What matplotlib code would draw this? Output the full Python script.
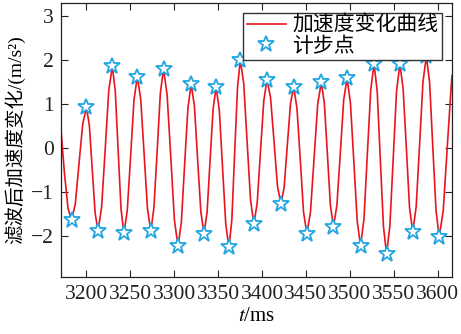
import matplotlib
matplotlib.use("Agg")
import matplotlib.pyplot as plt

# filtered acceleration curve (ms, m/s^2)
curve_t = [3171.0, 3175.0, 3179.0, 3183.0,
           3187.3, 3191.5, 3195.8, 3200.0,
           3203.3, 3206.6, 3209.9, 3213.2,
           3217.3, 3221.4, 3225.4, 3229.5,
           3232.8, 3236.1, 3239.4, 3242.7,
           3246.5, 3250.4, 3254.2, 3258.0,
           3261.8, 3265.7, 3269.5, 3273.3,
           3276.9, 3280.6, 3284.2, 3287.8,
           3291.9, 3296.1, 3300.2, 3304.3,
           3308.1, 3311.8, 3315.6, 3319.3,
           3323.0, 3326.6, 3330.3, 3333.9,
           3337.4, 3340.8, 3344.3, 3347.7,
           3351.4, 3355.0, 3358.7, 3362.3,
           3365.6, 3368.8, 3372.1, 3375.3,
           3379.2, 3383.0, 3386.9, 3390.7,
           3394.5, 3398.2, 3402.0, 3405.7,
           3409.7, 3413.7, 3417.6, 3421.6,
           3425.2, 3428.8, 3432.4, 3436.0,
           3439.8, 3443.6, 3447.3, 3451.1,
           3455.2, 3459.3, 3463.4, 3467.5,
           3471.0, 3474.5, 3477.9, 3481.4,
           3485.3, 3489.2, 3493.0, 3496.9,
           3500.7, 3504.6, 3508.4, 3512.2,
           3516.1, 3519.9, 3523.8, 3527.6,
           3531.2, 3534.7, 3538.3, 3541.8,
           3545.6, 3549.4, 3553.2, 3557.0,
           3560.7, 3564.4, 3568.0, 3571.7,
           3575.6, 3579.5, 3583.3, 3587.2,
           3590.9, 3594.5, 3598.2, 3601.8,
           3606.4, 3610.9, 3615.5, 3616.4]
curve_a = [0.41, -0.59, -1.37, -1.64,
           -1.27, -0.36, 0.55, 0.92,
           0.51, -0.49, -1.48, -1.89,
           -1.34, -0.02, 1.30, 1.85,
           1.30, -0.05, -1.39, -1.94,
           -1.42, -0.16, 1.10, 1.62,
           1.11, -0.14, -1.38, -1.89,
           -1.35, -0.05, 1.25, 1.79,
           1.20, -0.22, -1.64, -2.23,
           -1.69, -0.39, 0.91, 1.45,
           0.95, -0.25, -1.45, -1.95,
           -1.46, -0.29, 0.89, 1.38,
           0.85, -0.44, -1.73, -2.26,
           -1.64, -0.13, 1.38, 2.00,
           1.45, 0.14, -1.18, -1.73,
           -1.25, -0.09, 1.07, 1.55,
           1.14, 0.14, -0.87, -1.28,
           -0.89, 0.06, 1.00, 1.39,
           0.90, -0.28, -1.46, -1.95,
           -1.45, -0.23, 0.99, 1.49,
           1.01, -0.15, -1.31, -1.79,
           -1.30, -0.11, 1.09, 1.58,
           1.02, -0.32, -1.66, -2.22,
           -1.62, -0.16, 1.31, 1.91,
           1.28, -0.25, -1.78, -2.41,
           -1.78, -0.25, 1.28, 1.91,
           1.35, 0.00, -1.35, -1.91,
           -1.33, 0.09, 1.50, 2.08,
           1.48, 0.03, -1.42, -2.02,
           -1.43, -0.01, 1.41, 1.64]

# detected step points (peaks and valleys)
step_t = [3183.0, 3200.0, 3213.2, 3229.5, 3242.7, 3258.0, 3273.3, 3287.8,
          3304.3, 3319.3, 3333.9, 3347.7, 3362.3, 3375.3, 3390.7, 3405.7,
          3421.6, 3436.0, 3451.1, 3467.5, 3481.4, 3496.9, 3512.2, 3527.6,
          3541.8, 3557.0, 3571.7, 3587.2, 3601.8]
step_a = [-1.64, 0.92, -1.89, 1.85, -1.94, 1.62, -1.89, 1.79,
          -2.23, 1.45, -1.95, 1.38, -2.26, 2.00, -1.73, 1.55,
          -1.28, 1.39, -1.95, 1.49, -1.79, 1.58, -2.22, 1.91,
          -2.41, 1.91, -1.91, 2.08, -2.02]

x_ticks = [3200, 3250, 3300, 3350, 3400, 3450, 3500, 3550, 3600]
y_ticks = [-2, -1, 0, 1, 2, 3]

plt.rcParams["font.family"] = ["Liberation Serif", "Noto Sans CJK SC"]
plt.rcParams["mathtext.fontset"] = "stix"
plt.rcParams["axes.unicode_minus"] = True

fig = plt.figure(figsize=(4.61, 3.34), dpi=100)
ax = fig.add_axes([0.1323, 0.1707, 0.8482, 0.8218])

ax.plot(curve_t, curve_a, color="#e8141e", linewidth=1.2, label="加速度变化曲线")
ax.plot(step_t, step_a, linestyle="none", marker="*", markersize=12,
        markerfacecolor="white", markeredgecolor="#22a5e0", markeredgewidth=1.3,
        label="计步点")

ax.set_xlim(3171, 3616.4)
ax.set_ylim(-2.93, 3.3)
ax.set_xticks(x_ticks)
ax.set_yticks(y_ticks)
ax.tick_params(direction="in", length=5, width=0.8, top=True, right=True,
               labelsize=15.5, colors="#222222")
ax.tick_params(axis="x", pad=6)
ax.tick_params(axis="y", pad=5)
for sp in ax.spines.values():
    sp.set_linewidth(0.9)
    sp.set_color("#222222")

ax.set_xlabel("$t$/ms", fontsize=15, labelpad=2)
ax.set_ylabel("滤波后加速度变化/(m/s²)", fontsize=14, labelpad=4)

leg = ax.legend(loc="upper right", fontsize=15, frameon=True, fancybox=False,
                framealpha=1, edgecolor="#333333", borderpad=0.15,
                labelspacing=0.05, handlelength=1.9, handletextpad=0.3,
                borderaxespad=0.5)
leg.get_frame().set_linewidth(1.0)

fig.savefig("out.png", dpi=100)
